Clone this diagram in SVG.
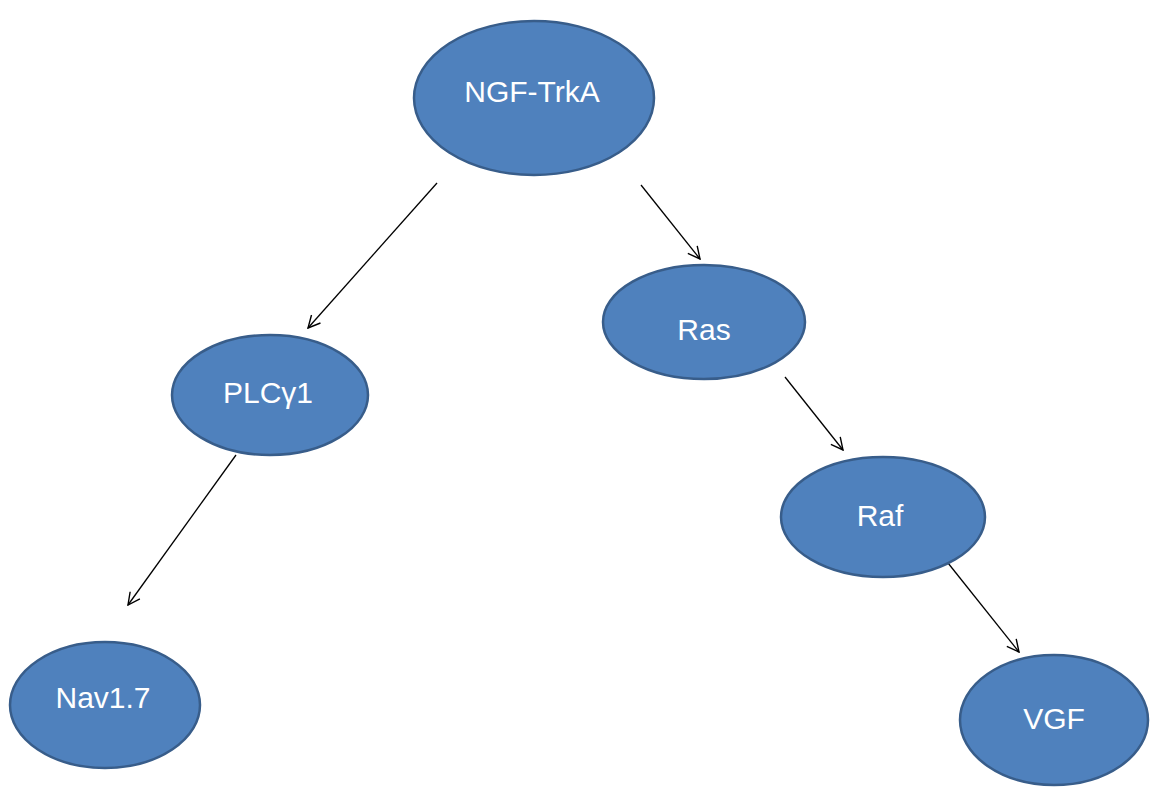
<svg xmlns="http://www.w3.org/2000/svg" width="1151" height="792" viewBox="0 0 1151 792">
<style>
.node ellipse{fill:#4F81BD;stroke:#385D8A;stroke-width:2.5}
.node text{fill:#FFFFFF;font-family:"Liberation Sans","Open Sans",sans-serif;font-size:30px;text-anchor:middle;dominant-baseline:central}
.edge{stroke:#000;stroke-width:1.3;fill:none;marker-end:url(#arr)}
</style>
<defs>
<marker id="arr" viewBox="0 0 14 14" refX="13" refY="7" markerWidth="14" markerHeight="14" markerUnits="userSpaceOnUse" orient="auto">
<path d="M1,1 L13,7 L1,13" fill="none" stroke="#000" stroke-width="1.4"/>
</marker>
</defs>
<rect width="1151" height="792" fill="#FFFFFF"/>
<g id="connectors">
<line class="edge" x1="437" y1="183" x2="308" y2="328"/>
<line class="edge" x1="641" y1="185" x2="700" y2="259"/>
<line class="edge" x1="236" y1="455" x2="128" y2="605"/>
<line class="edge" x1="785" y1="377" x2="843" y2="450"/>
<line class="edge" x1="948" y1="563" x2="1019" y2="652"/>
</g>
<g id="node-ngf-trka" class="node"><ellipse cx="534" cy="98" rx="120" ry="77"/><text x="532" y="91">NGF-TrkA</text></g>
<g id="node-ras" class="node"><ellipse cx="704" cy="322" rx="101" ry="57"/><text x="704" y="329">Ras</text></g>
<g id="node-plcg1" class="node"><ellipse cx="270" cy="395" rx="98" ry="60"/><text x="268" y="392">PLCγ1</text></g>
<g id="node-raf" class="node"><ellipse cx="883" cy="517" rx="102" ry="60"/><text x="880" y="515">Raf</text></g>
<g id="node-nav17" class="node"><ellipse cx="105" cy="705" rx="95" ry="63"/><text x="103" y="697">Nav1.7</text></g>
<g id="node-vgf" class="node"><ellipse cx="1054" cy="720" rx="94" ry="65"/><text x="1054" y="718">VGF</text></g>
</svg>
